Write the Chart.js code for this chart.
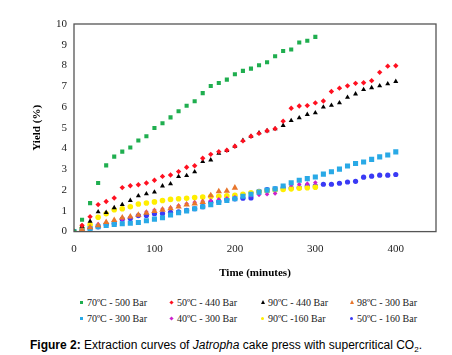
<!DOCTYPE html>
<html>
<head>
<meta charset="utf-8">
<script src="https://cdn.jsdelivr.net/npm/chart.js@4/dist/chart.umd.min.js"></script>
<style>
  html, body { margin: 0; padding: 0; background: #fff; }
  body { width: 452px; height: 355px; position: relative; overflow: hidden; }
  #wrap { position: absolute; left: 0; top: 0; width: 452px; height: 280px; }
  #legend { position: absolute; left: 0; top: 297px; width: 452px; height: 34px;
            font-family: "Liberation Serif", "Times New Roman", serif; font-size: 10px; color: #222; }
  .li { position: absolute; white-space: nowrap; line-height: 12px; }
  .mk { position: absolute; top: 4px; }
  #caption { position: absolute; left: 0; width: 452px; top: 338px; text-align: center;
             font-family: "Liberation Sans", Arial, sans-serif; font-size: 12px; color: #000; }
  #caption sub { font-size: 8px; vertical-align: -3px; line-height: 0; }
</style>
</head>
<body>
<div id="wrap"><canvas id="c" width="452" height="280"></canvas></div>
<div id="legend"></div>
<div id="caption"><b>Figure 2:</b> Extraction curves of <i>Jatropha</i> cake press with supercritical CO<sub>2</sub>.</div>
<script>
const minutes = [0,10,20,30,40,50,60,70,80,90,100,110,120,130,140,150,160,170,180,190,200,210,220,230,240,250,260,270,280,290,300,310,320,330,340,350,360,370,380,390,400];
const xTicks = [0,100,200,300,400];
const yTicks = [0,1,2,3,4,5,6,7,8,9,10];
const seriesNames = ["70ºC - 500 Bar","50ºC - 440 Bar","90ºC - 440 Bar","98ºC - 300 Bar","70ºC - 300 Bar","40ºC - 300 Bar","90ºC -160 Bar","50ºC - 160 Bar"];

const y70_500 = [0,0.57,1.37,2.34,3.19,3.61,3.85,4.05,4.39,4.59,4.99,5.22,5.50,5.80,6.06,6.28,6.67,7.01,7.16,7.32,7.58,7.74,7.85,8.01,8.16,8.45,8.70,8.77,9.11,9.19,9.38];
const y50_440 = [0,0.3,0.72,1.30,1.45,1.62,2.12,2.21,2.26,2.34,2.47,2.66,2.73,2.89,3.10,3.17,3.53,3.72,3.85,3.92,4.11,4.37,4.59,4.73,4.86,4.96,5.32,5.94,6.05,6.07,6.20,6.29,6.75,6.91,7.02,7.14,7.17,7.27,7.67,7.97,7.99];
const y90_440 = [0,0.25,0.5,0.95,0.92,1.15,1.3,1.5,1.72,1.82,1.9,2.2,2.3,2.65,2.7,2.88,3.37,3.45,3.77,3.9,4.11,4.39,4.59,4.76,4.86,4.95,5.11,5.35,5.48,5.64,5.72,6.0,6.08,6.2,6.47,6.63,6.84,6.93,7.02,7.12,7.23];
const y98_300 = [0,0.1,0.2,0.3,0.45,0.55,0.67,0.72,0.8,0.9,0.98,1.05,1.12,1.2,1.3,1.35,1.42,1.74,1.94,1.96,2.11];
const y70_300 = [0,0.08,0.15,0.23,0.3,0.35,0.38,0.4,0.44,0.52,0.6,0.67,0.8,0.91,1.0,1.1,1.2,1.3,1.4,1.5,1.58,1.7,1.8,1.9,2.0,2.06,2.2,2.35,2.47,2.55,2.63,2.77,2.88,3.01,3.16,3.28,3.35,3.48,3.6,3.69,3.84];
const y40_300 = [0,0.12,0.2,0.36,0.4,0.5,0.6,0.7,0.8,0.95,1.04,1.09,1.15,1.25,1.34,1.41,1.46,1.5,1.55,1.6,1.65,1.7,1.74,1.77,1.8,1.84,2.2,2.25,2.28,2.31,2.36];
const y90_160 = [0,0.15,0.33,0.69,0.86,1.05,1.1,1.2,1.33,1.38,1.43,1.5,1.55,1.58,1.61,1.64,1.67,1.69,1.7,1.72,1.75,1.8,1.87,1.92,1.96,2.0,2.03,2.06,2.09,2.11,2.14];
const y50_160 = [0,0.08,0.15,0.23,0.34,0.39,0.6,0.63,0.77,0.78,0.86,0.87,0.93,0.95,1.02,1.1,1.2,1.41,1.45,1.55,1.58,1.61,1.62,1.94,2.02,2.06,2.11,2.1,2.12,2.2,2.2,2.28,2.28,2.33,2.39,2.42,2.62,2.67,2.72,2.72,2.75];

const pts = arr => arr.map((v, i) => ({x: minutes[i], y: v}));
const styles = [
  {c:'#1fae4f', s:'rect', r:2.9},
  {c:'#ff1020', s:'rectRot', r:2.7},
  {c:'#000000', s:'triangle', r:2.9},
  {c:'#e8762c', s:'triangle', r:3.7},
  {c:'#29a9e6', s:'rect', r:3.6},
  {c:'#cc22cc', s:'rectRot', r:2.3},
  {c:'#ffee00', s:'circle', r:2.8},
  {c:'#3a3af5', s:'circle', r:2.6}
];
const allY = [y70_500,y50_440,y90_440,y98_300,y70_300,y40_300,y90_160,y50_160];
const datasets = allY.map((arr, k) => ({
  label: seriesNames[k], data: pts(arr), showLine: false,
  backgroundColor: styles[k].c, borderColor: styles[k].c, borderWidth: 0,
  pointStyle: styles[k].s, pointRadius: styles[k].r, pointHoverRadius: styles[k].r
}));

const frame = {
  id: 'frame',
  afterDraw(chart) {
    const a = chart.chartArea, ctx = chart.ctx;
    ctx.save(); ctx.strokeStyle = '#555'; ctx.lineWidth = 1.3;
    ctx.strokeRect(a.left, a.top, a.right - a.left, a.bottom - a.top);
    ctx.restore();
  }
};

const serif = "'Liberation Serif', 'Times New Roman', serif";
new Chart(document.getElementById('c'), {
  type: 'scatter',
  data: { datasets },
  options: {
    responsive: false, animation: false,
    layout: { padding: { left: 29, right: 16, top: 24, bottom: 0 } },
    plugins: { legend: { display: false }, tooltip: { enabled: false } },
    scales: {
      x: { type: 'linear', min: 0, max: 450,
        afterBuildTicks: s => { s.ticks = xTicks.map(v => ({value: v})); },
        grid: { display: false, drawTicks: false }, border: { display: false },
        ticks: { padding: 11, color: '#222', font: { family: serif, size: 11 } },
        title: { display: true, text: 'Time (minutes)', color: '#000', padding: { top: 0, bottom: 0 },
                 font: { family: serif, size: 11, weight: 'bold' } } },
      y: { type: 'linear', min: 0, max: 10,
        afterBuildTicks: s => { s.ticks = yTicks.map(v => ({value: v})); },
        afterFit: s => { s.width = 45; },
        grid: { display: false, drawTicks: false }, border: { display: false },
        ticks: { padding: 7, color: '#222', font: { family: serif, size: 11 } },
        title: { display: true, text: 'Yield (%)', color: '#000', padding: { top: 2, bottom: 0 },
                 font: { family: serif, size: 11, weight: 'bold' } } }
    }
  },
  plugins: [frame]
});

// HTML legend built from the datasets
const lg = document.getElementById('legend');
const colX = [80, 170, 261, 350];
datasets.forEach((d, k) => {
  const row = Math.floor(k / 4), col = k % 4;
  const it = document.createElement('div');
  it.className = 'li';
  it.style.left = colX[col] + 'px';
  it.style.top = (row * 16) + 'px';
  const m = document.createElement('span');
  m.className = 'mk';
  const st = styles[k].s;
  if (st === 'triangle') {
    m.style.width = '0'; m.style.height = '0';
    m.style.borderLeft = '2px solid transparent'; m.style.borderRight = '2px solid transparent';
    m.style.borderBottom = '4px solid ' + d.backgroundColor; m.style.left = '0px'; m.style.top = '3px';
  } else {
    m.style.width = '3px'; m.style.height = '3px'; m.style.background = d.backgroundColor; m.style.left = '0px';
    if (st === 'circle') m.style.borderRadius = '50%';
    if (st === 'rectRot') m.style.transform = 'rotate(45deg)';
  }
  it.appendChild(m);
  const t = document.createElement('span');
  t.style.marginLeft = '7px';
  t.textContent = d.label;
  it.appendChild(t);
  lg.appendChild(it);
});
</script>
</body>
</html>
